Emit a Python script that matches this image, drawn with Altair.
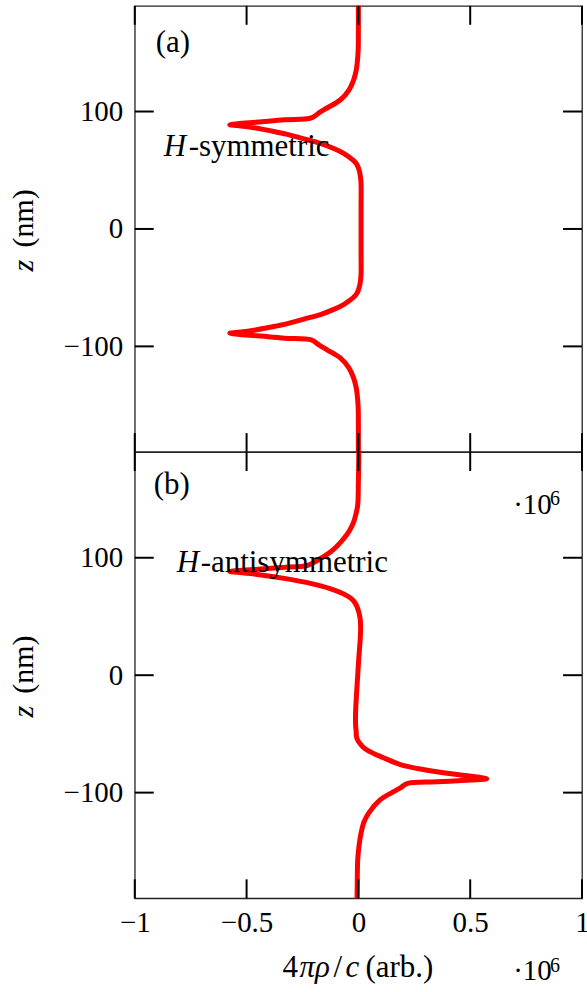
import altair as alt
import pandas as pd

# Charge density 4*pi*rho/c (units of 1e6) against depth z (nm)
# (a) H-symmetric profile
z_sym = [190, 170, 152, 140, 135, 127, 118, 110, 103, 99, 94.5, 93, 91, 89.6, 88.7,
         88.0, 86.2, 83.5, 80.6, 76.5, 72.9, 68.5, 64.4, 61, 58, 55, 52, 48, 43, 38,
         20, 0, -20,
         -38, -43, -48, -52, -55, -58, -61, -64.4, -68.5, -72.9, -76.5, -80.6, -83.5,
         -86.2, -88.0, -88.7, -89.6, -91, -93, -94.5, -99, -103, -110, -118, -127,
         -135, -140, -152, -170, -190]
rho_sym = [0.0, 0.0, -0.001, -0.006, -0.010, -0.021, -0.043, -0.080, -0.14, -0.175,
           -0.21, -0.33, -0.45, -0.54, -0.575,
           -0.54, -0.467, -0.39, -0.318, -0.24, -0.170, -0.11, -0.066, -0.040,
           -0.020, -0.007, 0.0, 0.006, 0.010, 0.012,
           0.012, 0.012, 0.012,
           0.012, 0.010, 0.006, 0.0, -0.007, -0.020, -0.040, -0.066, -0.11, -0.170,
           -0.24, -0.318, -0.39, -0.467, -0.54, -0.575, -0.54, -0.45, -0.33, -0.21,
           -0.175, -0.14, -0.080, -0.043, -0.021, -0.010, -0.006, -0.001, 0.0, 0.0]

# (b) H-antisymmetric profile
z_anti = [190, 165, 145, 138, 130.5, 123, 116.2, 110, 104.9, 97.7, 93.4, 91.8, 90.3,
          89.1, 88.3, 87.6, 86, 82, 78, 74, 70, 67, 64, 60, 55, 48, 40, 30, 15, 0,
          -15, -25, -35, -44, -48, -52, -55, -58, -61, -64.4, -70.1, -76.1, -80.3,
          -84.6, -87.3, -88.3, -89.3, -90.8, -92.3, -96, -100, -106, -117.4, -125,
          -134.4, -145, -157, -175, -190]
rho_anti = [0.002, 0.0, -0.003, -0.010, -0.021, -0.040, -0.066, -0.095, -0.125,
            -0.184, -0.229, -0.34, -0.45, -0.54, -0.575, -0.54, -0.46, -0.318,
            -0.21, -0.13, -0.075, -0.045, -0.025, -0.010, 0.0, 0.008, 0.010, 0.008,
            0.002, -0.003,
            -0.008, -0.011, -0.013, -0.012, -0.010, -0.009, -0.004, 0.006, 0.020,
            0.045, 0.11, 0.1875, 0.29, 0.44, 0.55, 0.574, 0.50, 0.35, 0.217, 0.1875,
            0.15, 0.098, 0.046, 0.025, 0.012, 0.003, -0.003, -0.005, -0.006]

x_ticks = [-1, -0.5, 0, 0.5, 1]
z_ticks = [-100, 0, 100]

assert len(z_sym) == len(rho_sym)
assert len(z_anti) == len(rho_anti)

W, H = 448, 447
FONT = "Liberation Serif"
FS = 29      # tick labels
FT = 31      # titles and panel annotations
TICK = 19

one = pd.DataFrame({"k": [0]})


def label(text, x, y, italic=False, size=FT, angle=0, align="left"):
    props = dict(font=FONT, fontSize=size, color="black", align=align,
                 baseline="alphabetic", angle=angle)
    if italic:
        props["fontStyle"] = "italic"
    return alt.Chart(one).mark_text(**props).encode(
        x=alt.value(x), y=alt.value(y), text=alt.value(text))


def panel(z, rho, bottom):
    xscale = alt.Scale(domain=[-1, 1], nice=False, zero=False)
    yscale = alt.Scale(domain=[-190, 190], nice=False, zero=False)
    if bottom:
        xaxis = alt.Axis(values=x_ticks, format="~g", ticks=False, tickSize=0,
                         domain=False, grid=False, title=None, labelPadding=33,
                         labelBaseline="alphabetic", labelFlush=False,
                         labelOverlap=False)
    else:
        xaxis = None
    yaxis = alt.Axis(values=z_ticks, format="d", ticks=False, tickSize=0,
                     domain=False, grid=False, title=None, labelPadding=12,
                     labelFlush=False, labelOverlap=False)

    df = pd.DataFrame({"z": z, "rho": rho})
    line = alt.Chart(df).mark_line(
        color="#ff0000", strokeWidth=5, strokeJoin="round", strokeCap="round",
        interpolate="catmull-rom", clip=True,
    ).encode(
        x=alt.X("rho:Q", scale=xscale, axis=xaxis),
        y=alt.Y("z:Q", scale=yscale, axis=yaxis),
        order=alt.Order("z:Q"),
    )

    xt = pd.DataFrame({"t": x_ticks})
    zt = pd.DataFrame({"t": z_ticks})
    rule = dict(color="black", strokeWidth=2)
    ticks = [
        alt.Chart(xt).mark_rule(**rule).encode(
            x=alt.X("t:Q", scale=xscale, axis=xaxis),
            y=alt.value(0), y2=alt.value(TICK)),
        alt.Chart(xt).mark_rule(**rule).encode(
            x=alt.X("t:Q", scale=xscale, axis=xaxis),
            y=alt.value(H - TICK), y2=alt.value(H)),
        alt.Chart(zt).mark_rule(**rule).encode(
            y=alt.Y("t:Q", scale=yscale, axis=yaxis),
            x=alt.value(0), x2=alt.value(TICK)),
        alt.Chart(zt).mark_rule(**rule).encode(
            y=alt.Y("t:Q", scale=yscale, axis=yaxis),
            x=alt.value(W - TICK), x2=alt.value(W)),
    ]

    # vertical axis title: italic z followed by (nm)
    texts = [
        label("z", -102, 266, italic=True, angle=270, size=30),
        label("(nm)", -102, 242, angle=270, size=30),
    ]
    if not bottom:
        texts += [
            label("(a)", 21, 46),
            label("H", 29, 150.5, italic=True),
            label("-symmetric", 54, 150.5),
            # keeps the canvas origin fixed at the upper left
            alt.Chart(one).mark_rule(strokeOpacity=0).encode(
                x=alt.value(-133.5), y=alt.value(-4), y2=alt.value(10)),
        ]
    else:
        texts += [
            label("(b)", 19, 42),
            label("·10", 379, 62, size=FS),
            label("6", 416, 53, size=20),
            label("H", 42, 120, italic=True),
            label("-antisymmetric", 66, 120),
            label("4", 148, 526),
            label("πρ", 165, 526, italic=True),
            label("/", 199, 526),
            label("c", 211, 526, italic=True),
            label("(arb.)", 231, 526),
            label("·10", 379, 529, size=FS),
            label("6", 416, 521, size=20),
        ]
    return alt.layer(line, *ticks, *texts).properties(width=W, height=H)


chart = alt.vconcat(
    panel(z_sym, rho_sym, False),
    panel(z_anti, rho_anti, True),
    spacing=0,
    bounds="flush",
).properties(
    padding={"left": 0, "top": 0, "right": -3, "bottom": 3},
).configure_view(
    stroke="#222", strokeWidth=1.3,
).configure_axis(
    labelFont=FONT, labelFontSize=FS, labelColor="black",
)

chart.save("out.html", embed_options={"renderer": "svg", "actions": False})
